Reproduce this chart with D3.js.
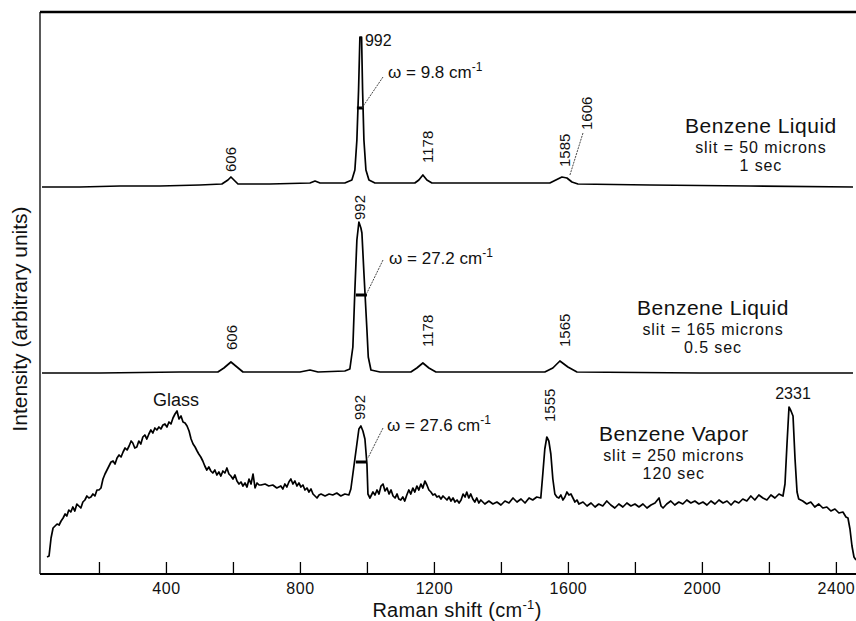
<!DOCTYPE html>
<html>
<head>
<meta charset="utf-8">
<title>Benzene Raman spectra</title>
<script src="https://d3js.org/d3.v7.min.js"></script>
<style>
  body { margin: 0; background: #fff; }
  text { font-family: "Liberation Sans", Arial, sans-serif; fill: #111; }
</style>
</head>
<body>
<svg id="chart" width="856" height="621"></svg>
<script>

// spectra: [Raman shift (cm-1), intensity (arb.)]
const liquid50 = [
  [30,387],[143,387],[263,388],[382,388],[501,389],[567,390],[585,394],[594,397],[603,394],[615,390],
  [710,390],[830,391],[845,393],[860,391],[934,391],[955,394],[964,404],[970,434],[975,484],[979,537],
  [984,537],[987,484],[991,434],[997,404],[1006,394],[1024,391],[1143,391],[1155,394],[1167,399],[1179,394],
  [1194,391],[1546,391],[1564,394],[1582,397],[1597,396],[1612,392],[1630,390],[1845,389],[2143,388],[2451,387]
];

const liquid165 = [
  [30,201],[203,201],[442,202],[555,202],[573,206],[594,212],[612,207],[630,202],[800,202],[830,204],
  [854,202],[934,203],[949,205],[958,227],[964,284],[970,334],[976,352],[982,346],[985,341],[991,301],
  [1000,244],[1004,217],[1012,204],[1039,202],[1131,202],[1149,206],[1167,211],[1185,206],[1206,202],[1531,202],
  [1555,206],[1576,213],[1600,207],[1627,202],[1994,201],[2451,201]
];

const vapor250 = [
  [45,17],[51,18],[57,36],[63,46],[69,48],[75,50],[81,49],[87,53],[93,56],[99,60],
  [104,58],[110,64],[116,62],[122,67],[128,63],[134,70],[140,68],[146,66],[152,72],[158,74],
  [164,78],[170,76],[176,77],[182,80],[188,78],[194,84],[200,84],[206,86],[212,95],[218,100],
  [224,104],[230,108],[236,112],[242,113],[248,110],[254,116],[260,119],[266,117],[272,122],[278,126],
  [284,124],[290,128],[296,133],[301,131],[307,126],[313,127],[319,133],[325,130],[331,137],[337,139],
  [343,135],[349,140],[355,144],[361,141],[367,146],[373,144],[379,147],[385,145],[391,149],[397,150],
  [403,147],[409,152],[415,150],[421,156],[427,160],[433,163],[439,155],[445,158],[451,152],[457,151],
  [463,148],[469,143],[475,135],[481,130],[487,127],[493,123],[498,120],[504,117],[510,113],[516,108],
  [522,104],[528,107],[534,103],[540,101],[546,104],[552,99],[558,102],[564,98],[570,103],[576,101],
  [582,106],[588,100],[594,98],[600,95],[606,99],[612,93],[618,90],[624,92],[630,88],[636,91],
  [642,87],[648,95],[654,90],[660,100],[666,86],[672,91],[678,89],[684,89],[696,90],[707,88],
  [719,89],[731,86],[743,88],[749,85],[755,90],[761,87],[767,92],[773,95],[779,90],[785,93],
  [791,88],[797,91],[803,87],[809,89],[815,84],[821,86],[827,82],[833,85],[839,80],[845,78],
  [851,76],[857,79],[863,80],[875,78],[887,80],[898,79],[910,81],[922,78],[934,80],[946,79],
  [952,85],[958,100],[964,115],[970,130],[976,145],[982,148],[988,143],[994,135],[1000,110],[1003,80],
  [1009,76],[1018,82],[1024,79],[1030,84],[1036,80],[1042,88],[1048,90],[1054,83],[1060,86],[1066,80],
  [1072,84],[1078,78],[1084,76],[1090,80],[1095,75],[1101,74],[1107,77],[1113,73],[1119,79],[1125,84],
  [1131,80],[1137,86],[1143,82],[1149,88],[1155,84],[1161,90],[1167,86],[1173,93],[1179,89],[1185,84],
  [1191,82],[1197,79],[1203,80],[1209,77],[1215,78],[1221,75],[1227,78],[1233,76],[1239,74],[1245,77],
  [1251,73],[1257,76],[1263,72],[1269,74],[1275,71],[1281,74],[1287,80],[1293,77],[1298,82],[1304,76],
  [1310,80],[1316,75],[1322,72],[1328,76],[1334,71],[1340,74],[1352,70],[1364,73],[1376,70],[1388,72],
  [1400,69],[1412,73],[1424,71],[1436,76],[1448,72],[1460,75],[1472,71],[1484,76],[1495,74],[1507,77],
  [1519,76],[1525,100],[1531,125],[1537,137],[1543,133],[1549,120],[1555,95],[1561,80],[1567,77],[1573,76],
  [1579,79],[1585,74],[1591,77],[1597,82],[1603,79],[1609,80],[1615,76],[1621,72],[1627,74],[1633,70],
  [1645,72],[1657,68],[1669,71],[1681,67],[1692,70],[1704,68],[1716,73],[1728,69],[1740,66],[1752,70],
  [1764,67],[1776,71],[1788,68],[1800,70],[1812,67],[1824,70],[1836,66],[1848,69],[1860,71],[1872,76],
  [1878,68],[1884,66],[1895,70],[1907,73],[1919,69],[1931,72],[1943,70],[1955,74],[1967,71],[1979,73],
  [1991,70],[2003,72],[2015,69],[2027,73],[2039,70],[2051,74],[2063,71],[2075,73],[2087,69],[2098,73],
  [2110,71],[2122,75],[2134,73],[2146,78],[2158,74],[2170,79],[2182,76],[2194,74],[2206,79],[2218,76],
  [2230,80],[2242,78],[2248,90],[2254,130],[2260,167],[2266,163],[2272,158],[2278,115],[2284,82],[2289,75],
  [2301,73],[2313,70],[2325,72],[2337,67],[2349,70],[2361,66],[2373,67],[2385,63],[2397,65],[2409,61],
  [2421,62],[2430,57],[2436,56],[2442,45],[2448,28],[2454,17],[2460,14]
];

// line widths of the 992 band: [from, to, level]
const widthBars = [
  [970, 988, 466],
  [967, 1000, 279],
  [967, 1000, 112]
];

const xTicks = [200, 400, 600, 800, 1000, 1200, 1400, 1600, 1800, 2000, 2200, 2400];

// peak labels: [text, shift, intensity, rotated]
const peakLabels = [
  ["992", 994, 528, false],
  ["606", 594, 402, true],
  ["1178", 1182, 411, true],
  ["1585", 1591, 407, true],
  ["1606", 1657, 444, true],
  ["992", 979, 354, true],
  ["606", 597, 224, true],
  ["1178", 1182, 227, true],
  ["1565", 1591, 227, true],
  ["992", 979, 154, true],
  ["1555", 1546, 152, true],
  ["2331", 2272, 175, false]
];

// omega labels: [value, shift, intensity]
const widthLabels = [
  ["9.8", 1063, 496],
  ["27.2", 1066, 310],
  ["27.6", 1060, 143]
];

// leader lines: [x1, y1, x2, y2]
const leaders = [
  [1048, 497, 985, 466],
  [1645, 441, 1606, 399],
  [1048, 314, 1000, 281],
  [1048, 146, 1003, 116]
];

// sample captions: [title, slit, time, centre shift, title intensity]
const captions = [
  ["Benzene Liquid", "slit = 50 microns", "1 sec", 2176, 441],
  ["Benzene Liquid", "slit = 165 microns", "0.5 sec", 2033, 259],
  ["Benzene Vapor", "slit = 250 microns", "120 sec", 1916, 133]
];

var svg = d3.select("#chart"),
  width = +svg.attr("width"),
  height = +svg.attr("height");

var x = d3.scaleLinear().domain([24, 2460]).range([40, 856]);
var y = d3.scaleLinear().domain([0, 562]).range([574, 12]);

var line = d3.line()
  .x(function(d) { return x(d[0]); })
  .y(function(d) { return y(d[1]); });

// frame: left and top lines
svg.append("line")
  .attr("x1", 40).attr("x2", 40).attr("y1", 12).attr("y2", 574)
  .style("stroke", "#222").style("stroke-width", 1.5);
svg.append("line")
  .attr("x1", 40).attr("x2", width).attr("y1", 12).attr("y2", 12)
  .style("stroke", "#000").style("stroke-width", 2.5);

// x axis
var xAxis = d3.axisBottom(x)
  .tickValues(xTicks)
  .tickSizeInner(-12)
  .tickSizeOuter(0)
  .tickPadding(9)
  .tickFormat(function(d) { return d % 400 === 0 ? d : ""; });

var gx = svg.append("g")
  .attr("transform", "translate(0,574)")
  .call(xAxis);
gx.select(".domain").remove();
gx.selectAll(".tick line").style("stroke", "#000").style("stroke-width", 1.3);
gx.selectAll(".tick text")
  .style("font-family", '"Liberation Sans", Arial, sans-serif')
  .style("font-size", "16px")
  .style("letter-spacing", "0.5px")
  .style("fill", "#111");
svg.append("line")
  .attr("x1", 40).attr("x2", width).attr("y1", 574).attr("y2", 574)
  .style("stroke", "#000").style("stroke-width", 2);

// axis titles
var xt = svg.append("text")
  .attr("x", 457).attr("y", 617)
  .attr("text-anchor", "middle")
  .style("font-size", "20px")
  .style("letter-spacing", "0.3px")
  .text("Raman shift (cm");
xt.append("tspan").attr("dy", -8).style("font-size", "13px").text("-1");
xt.append("tspan").attr("dy", 8).text(")");

svg.append("text")
  .attr("transform", "translate(27,319) rotate(-90)")
  .attr("text-anchor", "middle")
  .style("font-size", "21px")
  .text("Intensity (arbitrary units)");

// spectra
[liquid50, liquid165, vapor250].forEach(function(s) {
  svg.append("path")
    .datum(s)
    .attr("d", line)
    .style("fill", "none")
    .style("stroke", "#000")
    .style("stroke-width", 1.7)
    .style("stroke-linejoin", "round");
});

// width bars
svg.selectAll(".wbar")
  .data(widthBars)
  .enter()
  .append("line")
  .attr("class", "wbar")
  .attr("x1", function(d) { return x(d[0]); })
  .attr("x2", function(d) { return x(d[1]); })
  .attr("y1", function(d) { return y(d[2]); })
  .attr("y2", function(d) { return y(d[2]); })
  .style("stroke", "#000")
  .style("stroke-width", 3);

// leaders
svg.selectAll(".leader")
  .data(leaders)
  .enter()
  .append("line")
  .attr("class", "leader")
  .attr("x1", function(d) { return x(d[0]); })
  .attr("y1", function(d) { return y(d[1]); })
  .attr("x2", function(d) { return x(d[2]); })
  .attr("y2", function(d) { return y(d[3]); })
  .style("stroke", "#333")
  .style("stroke-width", 0.9)
  .style("stroke-dasharray", "2,1");

// peak labels
peakLabels.forEach(function(p) {
  var t = svg.append("text")
    .style("font-size", p[3] ? "15px" : "16px")
    .text(p[0]);
  if (p[3]) {
    t.attr("transform", "translate(" + (x(p[1]) + 5) + "," + y(p[2]) + ") rotate(-90)")
      .attr("text-anchor", "start");
  } else {
    t.attr("x", x(p[1])).attr("y", y(p[2]))
      .attr("text-anchor", p[0] === "2331" ? "middle" : "start");
  }
});

svg.append("text")
  .attr("x", x(430)).attr("y", y(168))
  .attr("text-anchor", "middle")
  .style("font-size", "18px")
  .text("Glass");

// omega labels
widthLabels.forEach(function(w) {
  var t = svg.append("text")
    .attr("x", x(w[1])).attr("y", y(w[2]))
    .style("font-size", "17px")
    .text("\u03c9 = " + w[0] + " cm");
  t.append("tspan").attr("dy", -7).style("font-size", "12px").text("-1");
});

// captions
captions.forEach(function(c) {
  var g = svg.append("g").attr("text-anchor", "middle");
  g.append("text").attr("x", x(c[3])).attr("y", y(c[4]))
    .style("font-size", "21px").style("letter-spacing", "0.5px").text(c[0]);
  g.append("text").attr("x", x(c[3])).attr("y", y(c[4]) + 20)
    .style("font-size", "16px").style("letter-spacing", "0.9px").text(c[1]);
  g.append("text").attr("x", x(c[3])).attr("y", y(c[4]) + 38)
    .style("font-size", "16px").style("letter-spacing", "0.9px").text(c[2]);
});

</script>
</body>
</html>
